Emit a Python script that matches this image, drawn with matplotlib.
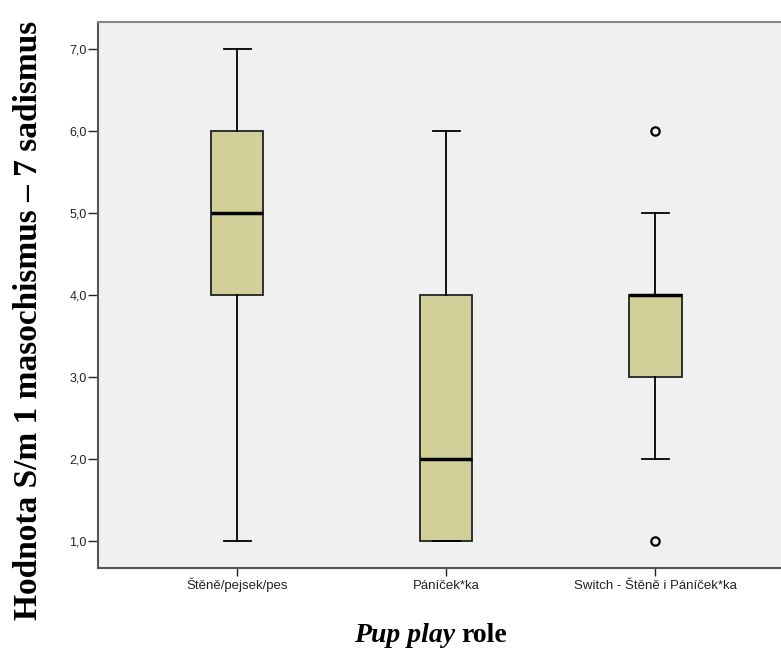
import matplotlib.pyplot as plt
from matplotlib.ticker import FuncFormatter

groups = ["Štěně/pejsek/pes", "Páníček*ka", "Switch - Štěně i Páníček*ka"]
whis_lo = [1.0, 1.0, 2.0]
q1 = [4.0, 1.0, 3.0]
median = [5.0, 2.0, 4.0]
q3 = [6.0, 4.0, 4.0]
whis_hi = [7.0, 6.0, 5.0]
outliers = [[], [], [6.0, 1.0]]
yticks = [1, 2, 3, 4, 5, 6, 7]

fig = plt.figure(figsize=(7.81, 6.5), dpi=100)
ax = fig.add_axes([0.1255, 0.1262, 0.8745, 0.8400])
ax.set_facecolor("#f0f0f0")

stats = []
for i in range(len(groups)):
    stats.append({"whislo": whis_lo[i], "q1": q1[i], "med": median[i],
                  "q3": q3[i], "whishi": whis_hi[i], "fliers": outliers[i]})

ax.bxp(stats, positions=[1, 2, 3], widths=0.25, capwidths=0.13,
       patch_artist=True,
       boxprops=dict(facecolor="#d3cf98", edgecolor="#222222", linewidth=1.3),
       medianprops=dict(color="black", linewidth=2.5),
       whiskerprops=dict(color="black", linewidth=1.3),
       capprops=dict(color="black", linewidth=1.3),
       flierprops=dict(marker="o", markerfacecolor="none", markeredgecolor="black",
                       markeredgewidth=1.6, markersize=6))

ax.set_xlim(0.335, 3.60)
ax.set_ylim(0.67, 7.33)
ax.set_yticks(yticks)
ax.yaxis.set_major_formatter(FuncFormatter(lambda v, p: "{:.1f}".format(v).replace(".", ",")))
ax.set_xticks([1, 2, 3])
ax.set_xticklabels(groups)
for lbl in ax.get_yticklabels():
    lbl.set_fontfamily("Liberation Sans")
    lbl.set_fontsize(9)
    lbl.set_color("#222222")
for lbl in ax.get_xticklabels():
    lbl.set_fontfamily("Liberation Sans")
    lbl.set_fontsize(9.5)
    lbl.set_color("#222222")
    lbl.set_verticalalignment("baseline")
ax.tick_params(axis="y", direction="out", length=7, width=1, color="#222222", pad=1)
ax.tick_params(axis="x", direction="out", length=5.5, width=1, color="#222222", pad=10)

ax.spines["left"].set_color("#555555")
ax.spines["bottom"].set_color("#555555")
ax.spines["left"].set_linewidth(1.5)
ax.spines["bottom"].set_linewidth(1.5)
ax.spines["top"].set_color("#888888")
ax.spines["top"].set_linewidth(1.5)
ax.spines["right"].set_visible(False)

fig.text(0.036, 0.507, "Hodnota S/m 1 masochismus – 7 sadismus", rotation=90,
         ha="center", va="center", fontfamily="Liberation Serif",
         fontweight="bold", fontsize=24)
fig.text(0.583, 0.013, "Pup play", ha="right", va="baseline",
         fontfamily="Liberation Serif", fontstyle="italic", fontweight="bold",
         fontsize=20)
fig.text(0.590, 0.013, "role", ha="left", va="baseline",
         fontfamily="Liberation Serif", fontweight="bold", fontsize=20)

fig.savefig("out.png", dpi=100)
